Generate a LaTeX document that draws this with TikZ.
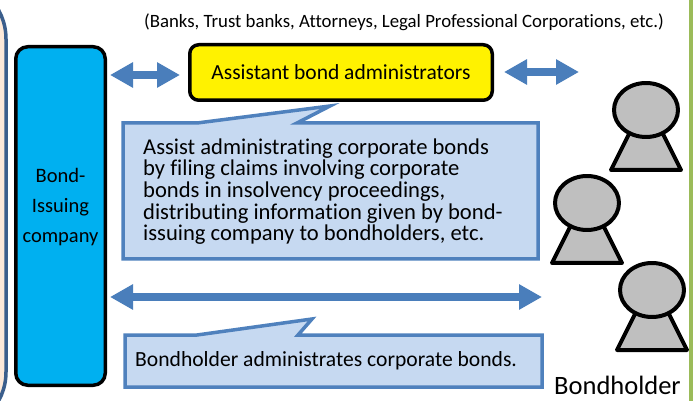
\documentclass[tikz,border=0pt]{standalone}
\usepackage{fontspec}
\setmainfont{Carlito}[Ligatures=NoCommon]
\usetikzlibrary{arrows.meta}
\definecolor{framec}{HTML}{3B5E8C}
\definecolor{peach}{HTML}{FDE9D9}
\definecolor{greenline}{HTML}{9BBB59}
\definecolor{issuerblue}{HTML}{00B0F0}
\definecolor{arrowblue}{HTML}{4A7EBB}
\definecolor{calloutfill}{HTML}{C6D9F1}
\definecolor{calloutline}{HTML}{4F81BD}
\definecolor{persongray}{HTML}{BFBFBF}
\tikzset{
  bigarrow/.style={draw=arrowblue, line width=8pt,
    {Triangle[length=23pt,width=24pt]}-{Triangle[length=23pt,width=24pt]}},
  calloutbox/.style={draw=calloutline, fill=calloutfill, line width=3.5pt, line join=miter},
  persona/.style={draw=black, fill=persongray, line width=4pt, line join=round},
  person/.pic={
    \path[persona] (-10,10) -- (10,10) -- (35,60) -- (-35,60) -- cycle;
    \path[persona] (0,0) ellipse (32 and 27);
  }
}
\begin{document}
\begin{tikzpicture}[x=1pt,y=-1pt]
\useasboundingbox (0,0) rectangle (697,401);
\clip (0,0) rectangle (697,401);
% outer frames
\draw[draw=framec, fill=peach, line width=3.5pt, rounded corners=60pt] (-80,-21) rectangle (6,432);
\draw[greenline, line width=3.5pt] (691,-5) -- (691,406);
% top note
\node[font=\fontsize{18.8}{22}\selectfont] (note) at (404,22) {(Banks, Trust banks, Attorneys, Legal Professional Corporations, etc.)};
% bond-issuing company
\node[draw=black, fill=issuerblue, line width=3.5pt, rounded corners=12pt,
      minimum width=89.5pt, minimum height=338.5pt, inner sep=0pt] (issuer) at (60.5,216) {};
\node[align=center, font=\fontsize{20.5}{30}\selectfont] (issuertext) at (60.5,207) {Bond-\\Issuing\\company};
% assistant bond administrators
\node[draw=black, fill=yellow, line width=3.5pt, rounded corners=9pt,
      minimum width=302.5pt, minimum height=55.5pt, inner sep=0pt,
      font=\fontsize{21.5}{24}\selectfont] (assist) at (341,72.5) {Assistant bond administrators};
% arrows
\coordinate (a2end) at (579,72);
\coordinate (a3end) at (542,297);
\draw[bigarrow] ([xshift=3pt]issuer.east |- 0,75) -- ([xshift=-8pt]assist.west |- 0,75);
\draw[bigarrow] ([xshift=10pt]assist.east |- a2end) -- (a2end);
\draw[bigarrow] ([xshift=3pt]issuer.east |- a3end) -- (a3end);
% callout 1
\draw[calloutbox] (123,123) -- (197,123) -- (330,106) -- (297,123) -- (538,123) -- (538,259) -- (123,259) -- cycle;
\node[anchor=west, align=left, inner sep=0pt, font=\fontsize{22.6}{21.7}\selectfont] (c1text) at (143,191.5)
  {Assist administrating corporate bonds\\by filing claims involving corporate\\bonds in insolvency proceedings,\\distributing information given by bond-\\issuing company to bondholders, etc.};
% callout 2
\draw[calloutbox] (125,335) -- (197,335) -- (312,319) -- (298,335) -- (542,335) -- (542,387) -- (125,387) -- cycle;
\node[anchor=west, inner sep=0pt, font=\fontsize{21.6}{24}\selectfont] (c2text) at (135,361) {Bondholder administrates corporate bonds.};
% bondholders
\pic at (646,110) {person};
\pic at (587,203) {person};
\pic at (652,290) {person};
\node[anchor=base, inner sep=0pt, font=\fontsize{26.5}{30}\selectfont] (holder) at (617.5,394) {Bondholder};
\end{tikzpicture}
\end{document}
